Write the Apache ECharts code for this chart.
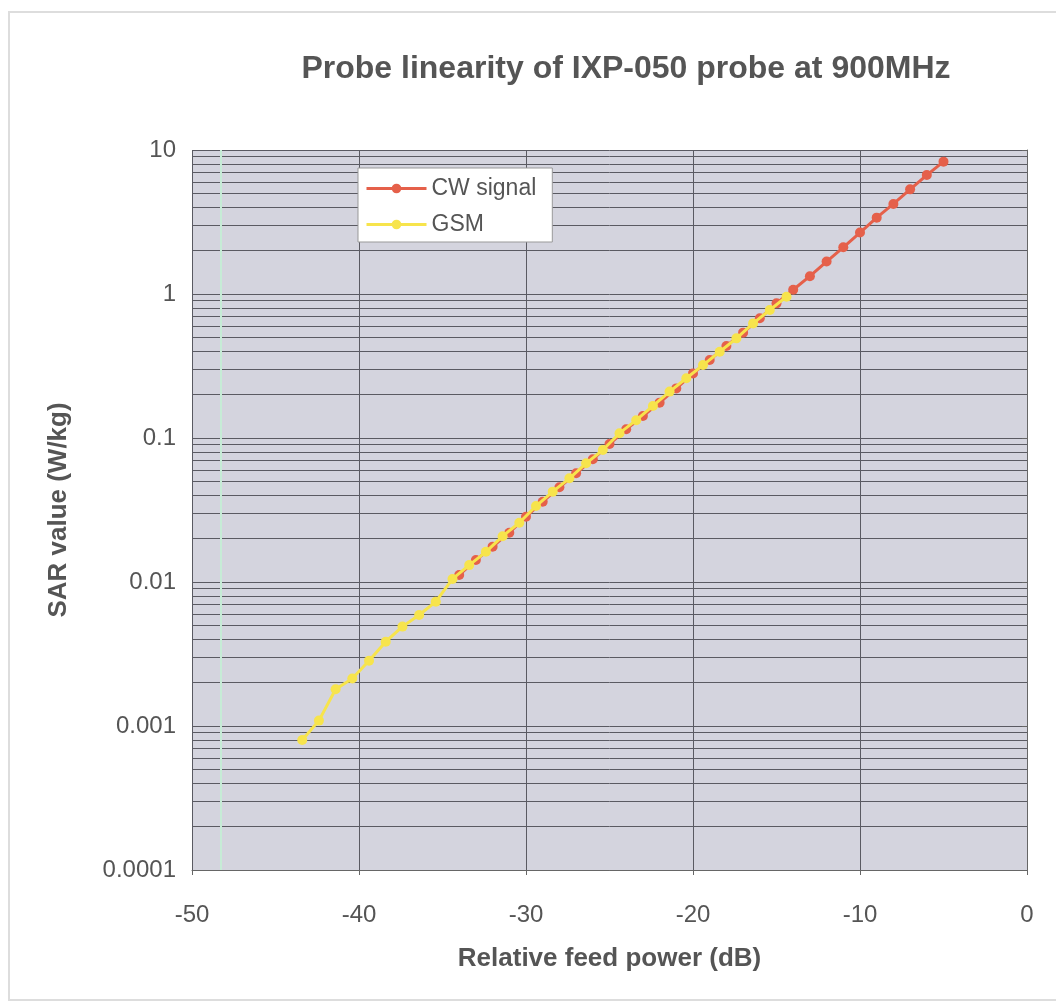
<!DOCTYPE html>
<html>
<head>
    <meta charset="utf-8">
    <title>Probe linearity</title>
    <script src="https://cdn.jsdelivr.net/npm/echarts@6/dist/echarts.min.js"></script>
    <style>
        html, body { margin: 0; padding: 0; background: #ffffff; }
    </style>
</head>
<body>
<div id="main" style="width: 1056px;height:1003px;"></div>
<script type="text/javascript">

    // CW signal: relative feed power (dB) and SAR (W/kg)
    var cwPower = [-34, -33, -32, -31, -30, -29, -28, -27, -26, -25, -24, -23, -22, -21, -20,
                   -19, -18, -17, -16, -15, -14, -13, -12, -11, -10, -9, -8, -7, -6, -5];
    var cwSar = [0.0112, 0.0142, 0.0176, 0.0220, 0.0284, 0.0361, 0.0455, 0.0569, 0.0711, 0.0908,
                 0.115, 0.142, 0.176, 0.221, 0.281, 0.348, 0.436, 0.539, 0.678, 0.861,
                 1.07, 1.33, 1.68, 2.11, 2.67, 3.39, 4.22, 5.33, 6.70, 8.30];

    // GSM signal
    var gsmPower = [-43.4, -42.4, -41.4, -40.4, -39.4, -38.4, -37.4, -36.4, -35.4, -34.4,
                    -33.4, -32.4, -31.4, -30.4, -29.4, -28.4, -27.4, -26.4, -25.4, -24.4,
                    -23.4, -22.4, -21.4, -20.4, -19.4, -18.4, -17.4, -16.4, -15.4, -14.4];
    var gsmSar = [0.0008, 0.00109, 0.0018, 0.00214, 0.00284, 0.00385, 0.0049, 0.0059, 0.0073, 0.0105,
                  0.0131, 0.0162, 0.0208, 0.0258, 0.0337, 0.0424, 0.0525, 0.0667, 0.0826, 0.108,
                  0.133, 0.167, 0.210, 0.260, 0.321, 0.397, 0.492, 0.625, 0.774, 0.958];

    var xMin = -50, xMax = 0;
    var decades = [0.0001, 0.001, 0.01, 0.1, 1];

    // log minor gridlines at 2..9 of each decade, drawn edge to edge
    var minorLines = [];
    decades.forEach(function (d) {
        for (var k = 2; k <= 9; k++) {
            var v = +(d * k).toPrecision(3);
            minorLines.push([{ coord: [xMin, v] }, { coord: [xMax, v] }]);
        }
    });

    function pairs(xs, ys) {
        return xs.map(function (x, i) { return [x, ys[i]]; });
    }

    var labelColor = '#555555';
    var gridColor = '#5a5a62';

    var myChart = echarts.init(document.getElementById('main'));

    var option = {
        backgroundColor: '#ffffff',
        animation: false,
        textStyle: { fontFamily: 'Liberation Sans, Arial, sans-serif' },
        graphic: [{
            type: 'rect',
            shape: { x: 9, y: 12, width: 1060, height: 988 },
            style: { fill: 'none', stroke: '#dddddd', lineWidth: 2 },
            silent: true
        }],
        title: {
            text: 'Probe linearity of IXP-050 probe at 900MHz',
            left: 621,
            top: 48,
            textAlign: 'center',
            textStyle: { fontSize: 32, fontWeight: 'bold', color: labelColor }
        },
        legend: {
            left: 358,
            top: 168,
            orient: 'vertical',
            backgroundColor: '#ffffff',
            borderColor: '#999999',
            borderWidth: 1,
            borderRadius: 0,
            padding: [9, 16, 6, 7],
            itemWidth: 60,
            itemHeight: 12,
            itemGap: 13,
            lineStyle: { width: 3 },
            textStyle: { fontSize: 23, color: labelColor },
            data: ['CW signal', 'GSM']
        },
        grid: {
            left: 192,
            top: 150,
            width: 835,
            height: 720,
            show: true,
            backgroundColor: '#d4d4de',
            borderWidth: 0
        },
        xAxis: {
            type: 'value',
            min: xMin,
            max: xMax,
            interval: 10,
            name: 'Relative feed power (dB)',
            nameLocation: 'middle',
            nameGap: 76,
            nameTextStyle: { fontSize: 26, fontWeight: 'bold', color: labelColor },
            axisLine: { lineStyle: { color: '#666666', width: 1 } },
            axisTick: { show: true, inside: false, length: 5, lineStyle: { color: '#666666' } },
            axisLabel: { fontSize: 24, color: labelColor, margin: 33 },
            splitLine: { show: true, lineStyle: { color: gridColor, width: 1 } }
        },
        yAxis: {
            type: 'log',
            logBase: 10,
            min: 0.0001,
            max: 10,
            name: 'SAR value (W/kg)',
            nameLocation: 'middle',
            nameGap: 120,
            nameRotate: 90,
            nameTextStyle: { fontSize: 26, fontWeight: 'bold', color: labelColor },
            axisLine: { show: true, lineStyle: { color: '#666666', width: 1 } },
            axisTick: { show: true, length: 5, lineStyle: { color: '#666666' } },
            axisLabel: {
                fontSize: 24,
                color: labelColor,
                margin: 16,
                formatter: function (v) {
                    return String(+v.toPrecision(3));
                }
            },
            splitLine: { show: true, lineStyle: { color: gridColor, width: 1 } }
        },
        series: [
            {
                name: 'CW signal',
                type: 'line',
                data: pairs(cwPower, cwSar),
                color: '#e5604a',
                symbol: 'circle',
                symbolSize: 10,
                lineStyle: { width: 3, color: '#e5604a' },
                itemStyle: { color: '#e5604a' },
                z: 3
            },
            {
                name: 'GSM',
                type: 'line',
                data: pairs(gsmPower, gsmSar),
                color: '#f7e44c',
                symbol: 'circle',
                symbolSize: 10,
                lineStyle: { width: 3, color: '#f7e44c' },
                itemStyle: { color: '#f7e44c' },
                z: 4,
                markLine: {
                    silent: true,
                    symbol: 'none',
                    z: 1,
                    label: { show: false },
                    lineStyle: { color: gridColor, width: 1, type: 'solid' },
                    data: minorLines.concat([{
                        xAxis: -48.3,
                        lineStyle: { color: '#c6ecd6', width: 2 }
                    }])
                }
            }
        ]
    };

    myChart.setOption(option);

</script>
</body>
</html>
